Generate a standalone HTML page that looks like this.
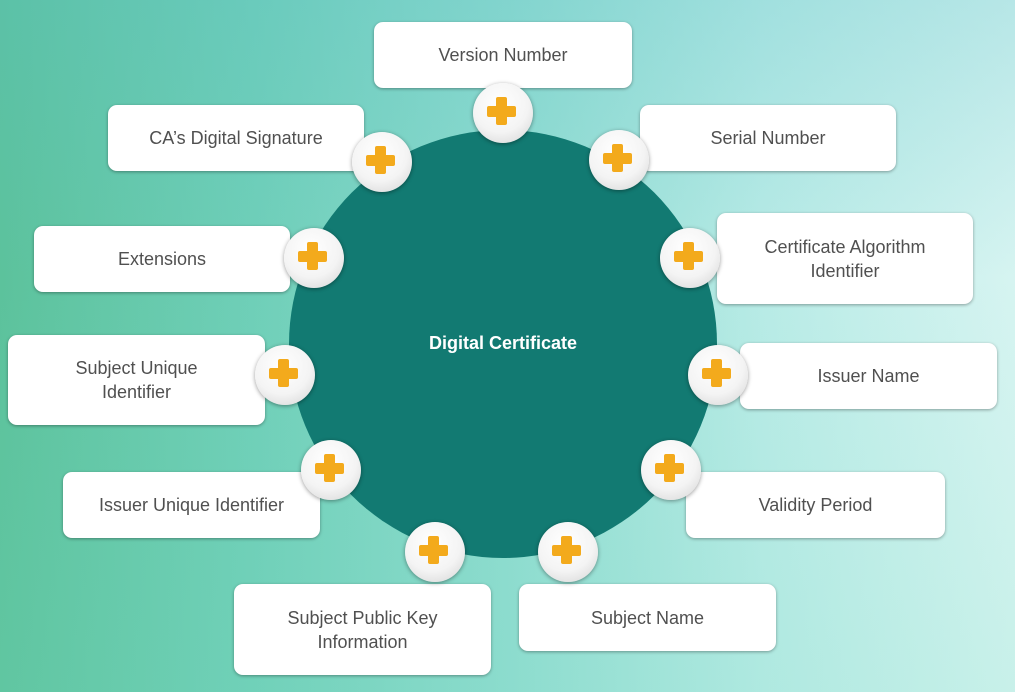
<!DOCTYPE html>
<html><head><meta charset="utf-8"><style>
body{margin:0;width:1015px;height:692px;overflow:hidden;position:relative;font-family:"Liberation Sans",sans-serif;
background:linear-gradient(90deg,#5cc29c 0%,#6fcfb8 25%,#8fdcd0 50%,#b8ebe6 75%,#d6f4f1 100%);}
.ov{position:absolute;inset:0;background:linear-gradient(180deg,rgba(90,190,200,0.25),rgba(255,255,255,0) 40%,rgba(120,220,190,0.15));}
.c{position:absolute;left:289px;top:130px;width:428px;height:428px;border-radius:50%;background:#127a72;}
.t{position:absolute;left:289px;top:333px;width:428px;text-align:center;color:#fff;font-weight:bold;font-size:18px;}
.b{position:absolute;background:#fff;border-radius:9px;box-shadow:0 1px 3px rgba(0,0,0,.35);display:flex;align-items:center;justify-content:center;text-align:center;color:#505050;font-size:18px;line-height:24px;}
.p{position:absolute;width:60px;height:60px;border-radius:50%;background:radial-gradient(circle at 45% 35%,#fff 0%,#f4f4f4 55%,#d2d2d2 100%);box-shadow:0 1px 4px rgba(0,0,0,.4);}
.p:before{content:"";position:absolute;left:23px;top:14px;width:11px;height:28px;background:#f3aa1c;border-radius:2px;}
.p:after{content:"";position:absolute;left:14px;top:23px;width:29px;height:11px;background:#f3aa1c;border-radius:2px;}
</style></head><body>
<div class="ov"></div>
<div class="c"></div>
<div class="t">Digital Certificate</div>
<div class="b" style="left:374px;top:22px;width:258px;height:66px">Version Number</div>
<div class="b" style="left:108px;top:105px;width:256px;height:66px">CA’s Digital Signature</div>
<div class="b" style="left:640px;top:105px;width:256px;height:66px">Serial Number</div>
<div class="b" style="left:34px;top:226px;width:256px;height:66px">Extensions</div>
<div class="b" style="left:717px;top:213px;width:256px;height:91px">Certificate Algorithm<br>Identifier</div>
<div class="b" style="left:8px;top:335px;width:257px;height:90px">Subject Unique<br>Identifier</div>
<div class="b" style="left:740px;top:343px;width:257px;height:66px">Issuer Name</div>
<div class="b" style="left:63px;top:472px;width:257px;height:66px">Issuer Unique Identifier</div>
<div class="b" style="left:686px;top:472px;width:259px;height:66px">Validity Period</div>
<div class="b" style="left:234px;top:584px;width:257px;height:91px">Subject Public Key<br>Information</div>
<div class="b" style="left:519px;top:584px;width:257px;height:67px">Subject Name</div>
<div class="p" style="left:473px;top:83px"></div>
<div class="p" style="left:352px;top:132px"></div>
<div class="p" style="left:589px;top:130px"></div>
<div class="p" style="left:284px;top:228px"></div>
<div class="p" style="left:660px;top:228px"></div>
<div class="p" style="left:255px;top:345px"></div>
<div class="p" style="left:688px;top:345px"></div>
<div class="p" style="left:301px;top:440px"></div>
<div class="p" style="left:641px;top:440px"></div>
<div class="p" style="left:405px;top:522px"></div>
<div class="p" style="left:538px;top:522px"></div>
</body></html>
